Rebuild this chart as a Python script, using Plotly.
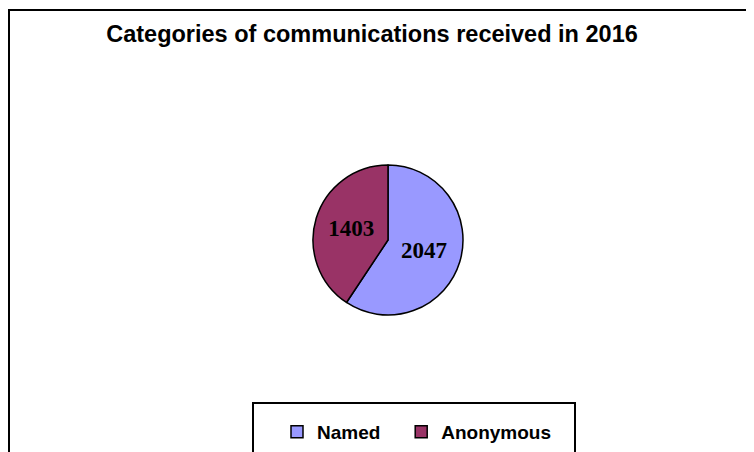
import plotly.graph_objects as go

categories = ["Named", "Anonymous"]
values = [2047, 1403]
colors = ["#9999FF", "#993366"]
title_text = "Categories of communications received in 2016"

W, H = 754, 452
OX, OY = 8, 8  # page offset of the plot in the browser
cx, cy, r = 388 - OX, 240 - OY, 75

legend_labels = ["<b>" + categories[0] + "</b>&nbsp;&nbsp;&nbsp;", "<b>" + categories[1] + "</b>"]

fig = go.Figure(go.Pie(
    labels=legend_labels,
    values=values,
    sort=False,
    direction="clockwise",
    rotation=0,
    marker=dict(colors=colors, line=dict(color="black", width=1.5)),
    textinfo="value",
    texttemplate="<b>%{value}</b>",
    textposition="inside",
    insidetextorientation="horizontal",
    textfont=dict(family="Liberation Serif", size=23, color="black"),
    domain=dict(x=[(cx - r) / W, (cx + r) / W], y=[(H - cy - r) / H, (H - cy + r) / H]),
    hoverinfo="label+value",
))

fig.update_layout(
    width=W, height=H,
    margin=dict(l=0, r=0, t=0, b=0),
    paper_bgcolor="white",
    plot_bgcolor="white",
    title=dict(text="<b>" + title_text + "</b>", x=(372 - OX) / W, xanchor="center",
               y=1 - (34 - OY) / H, yanchor="middle",
               font=dict(family="Liberation Sans", size=23.5, color="black")),
    showlegend=True,
    legend=dict(orientation="h", x=(277 - OX) / W, xanchor="left", y=1 - (432 - OY) / H, yanchor="middle",
                font=dict(family="Liberation Sans", size=19, color="black"),
                bgcolor="rgba(0,0,0,0)", borderwidth=0, itemwidth=30),
    shapes=[
        dict(type="line", xref="paper", yref="paper", x0=0, x1=1, y0=1 - (10 - OY) / H, y1=1 - (10 - OY) / H,
             line=dict(color="black", width=2)),
        dict(type="line", xref="paper", yref="paper", x0=1 / W, x1=1 / W, y0=1 - (10 - OY) / H, y1=0,
             line=dict(color="black", width=2)),
        dict(type="rect", xref="paper", yref="paper", x0=(253 - OX) / W, x1=(575 - OX) / W,
             y0=1 - (403 - OY) / H, y1=-0.05,
             line=dict(color="black", width=2)),
    ],
)

fig.write_html("out.html")
